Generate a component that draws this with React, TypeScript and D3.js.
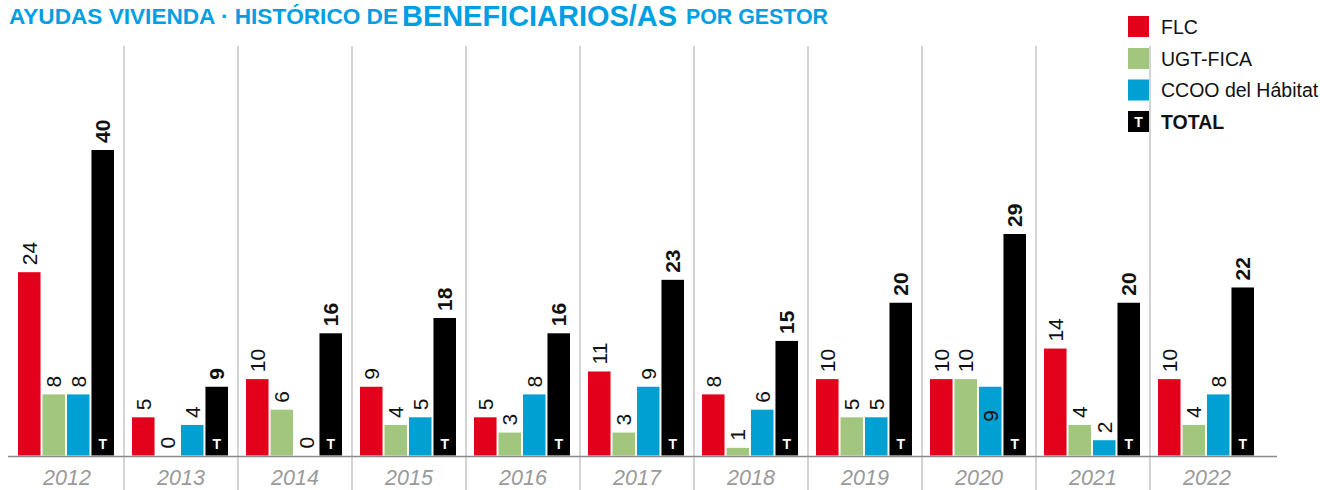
import React from 'react';
import * as d3 from 'd3';

// data
const years = ["2012", "2013", "2014", "2015", "2016", "2017", "2018", "2019", "2020", "2021", "2022"];
const flc = [24, 5, 10, 9, 5, 11, 8, 10, 10, 14, 10];
const ugt = [8, 0, 6, 4, 3, 3, 1, 5, 10, 4, 4];
const ccoo = [8, 4, 0, 5, 8, 9, 6, 5, 9, 2, 8];
const total = [40, 9, 16, 18, 16, 23, 15, 20, 29, 20, 22];

const seriesNames = ["FLC", "UGT-FICA", "CCOO del Hábitat", "TOTAL"];
const seriesColors = ["#e2001a", "#a2c67e", "#00a0d2", "#000000"];
const seriesValues = [flc, ugt, ccoo, total];

// labels that sit inside the bar in the original
const insideLabels = ["2020|CCOO del Hábitat"];

const FONT = '"Liberation Sans", Arial, sans-serif';
const BLUE = "#009ee2";

const App = () => {
    const width = 1320;
    const height = 490;
    const baseY = 455.5;

    const xGroup = d3.scaleBand()
        .domain(years)
        .range([10, 10 + 114 * years.length])
        .padding(0);

    const xInner = d3.scaleBand()
        .domain(seriesNames)
        .range([8, 104])
        .paddingInner(0.08)
        .paddingOuter(0);

    const y = d3.scaleLinear()
        .domain([0, 40])
        .range([baseY, 150]);

    const bars = [];
    years.forEach((yr, i) => {
        seriesNames.forEach((name, s) => {
            bars.push({ year: yr, name, s, value: seriesValues[s][i] });
        });
    });

    return (
        <svg width={width} height={height} style={{ position: 'absolute', left: 0, top: 0, background: '#fff' }} fontFamily={FONT}>
            {/* title */}
            <text x={9} y={24} fill={BLUE} fontSize={21.5} fontWeight="bold" textLength={389} lengthAdjust="spacingAndGlyphs">AYUDAS VIVIENDA · HISTÓRICO DE</text>
            <text x={402} y={26} fill={BLUE} fontSize={29} fontWeight="bold" textLength={275} lengthAdjust="spacingAndGlyphs">BENEFICIARIOS/AS</text>
            <text x={686} y={24} fill={BLUE} fontSize={21.5} fontWeight="bold" textLength={142} lengthAdjust="spacingAndGlyphs">POR GESTOR</text>

            {/* separators */}
            {years.slice(1).map(yr => (
                <line key={yr} x1={xGroup(yr)} x2={xGroup(yr)} y1={46} y2={490} stroke="#d4d4d4" strokeWidth={2} />
            ))}

            {/* legend */}
            {seriesNames.map((name, s) => {
                const by = [33.5, 65.5, 97, 128.5][s];
                return (
                    <g key={name}>
                        <rect x={1128} y={by - 17.5} width={21} height={21} fill={seriesColors[s]} />
                        {name === "TOTAL" && (
                            <text x={1138.5} y={by - 1.5} textAnchor="middle" fill="#fff" fontSize={14} fontWeight="bold">T</text>
                        )}
                        <text x={1161} y={by} fontSize={19.5} fill="#111" fontWeight={name === "TOTAL" ? "bold" : "normal"}>{name}</text>
                    </g>
                );
            })}

            {/* bars */}
            {bars.map(b => {
                const x0 = xGroup(b.year) + xInner(b.name);
                const bw = xInner.bandwidth();
                const top = y(b.value);
                const cx = x0 + bw / 2;
                const isTotal = b.name === "TOTAL";
                const inside = insideLabels.includes(b.year + "|" + b.name);
                return (
                    <g key={b.year + b.name}>
                        {b.value > 0 && (
                            <rect x={x0} y={top} width={bw} height={baseY - top} fill={seriesColors[b.s]} />
                        )}
                        {isTotal && (
                            <text x={cx} y={baseY - 7} textAnchor="middle" fill="#fff" fontSize={14} fontWeight="bold">T</text>
                        )}
                        <text
                            transform={`translate(${cx},${inside ? top + 35 : top - 7}) rotate(-90)`}
                            textAnchor="start"
                            dominantBaseline="central"
                            fontSize={21}
                            fontWeight={isTotal ? "bold" : "normal"}
                            fill="#111"
                        >{b.value}</text>
                    </g>
                );
            })}

            {/* baseline */}
            <line x1={8} x2={1277} y1={baseY + 1} y2={baseY + 1} stroke="#8a8a8a" strokeWidth={1.5} />

            {/* year labels */}
            {years.map(yr => (
                <text key={yr} x={xGroup(yr) + xGroup.bandwidth() / 2} y={485} textAnchor="middle" fontSize={21.5} fontStyle="italic" fill="#9a9a9a">{yr}</text>
            ))}
        </svg>
    );
};

export default App;
